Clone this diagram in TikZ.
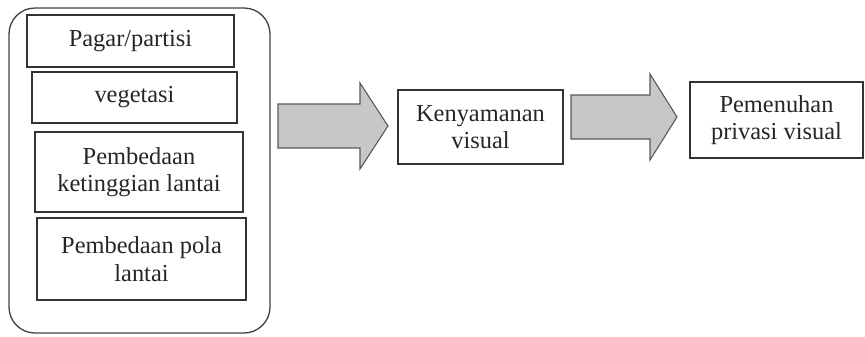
\documentclass[tikz,border=0pt]{standalone}
\usepackage{fontspec}
\setmainfont{Liberation Serif}
\begin{document}
\begin{tikzpicture}[x=1bp,y=-1bp,
  lbl/.style={font=\fontsize{24.5}{27.5}\selectfont, text=black!85, align=center},
  itembox/.style={lbl, draw=black!80, line width=1.3bp, inner sep=0pt, fill=white},
  blockarrow/.style={draw=black!65, line width=1.1bp, fill=black!22, line join=miter},
  outerbox/.style={draw=black!75, line width=1.3bp, rounded corners=26bp}
]
\useasboundingbox (0,0) rectangle (865,336);
% outer container
\node[outerbox, minimum width=261bp, minimum height=325bp] (outer) at (139.5,170.5) {};
% factor boxes
\node[itembox, minimum width=207bp, minimum height=52bp] (pagar) at (130.5,41) {Pagar/partisi};
\node[itembox, minimum width=205bp, minimum height=51bp] (veg) at (134.5,97.5) {vegetasi};
\node[itembox, minimum width=208bp, minimum height=80bp] (tinggi) at (139,172) {Pembedaan\\ketinggian lantai};
\node[itembox, minimum width=209bp, minimum height=82bp] (pola) at (141.5,259) {Pembedaan pola\\lantai};
% result boxes
\node[itembox, minimum width=165bp, minimum height=74bp] (nyaman) at (480.5,127) {Kenyamanan\\visual};
\node[itembox, minimum width=173bp, minimum height=76bp] (privasi) at (776.5,120) {Pemenuhan\\privasi visual};
% block arrows
\coordinate (a1s) at (278,126);
\coordinate (a1t) at (388,126);
\draw[blockarrow] ([yshift=22bp]a1s) -- (360,104) -- (360,83) -- (a1t) -- (360,169) -- (360,148) -- ([yshift=-22bp]a1s) -- cycle;
\coordinate (a2s) at (571,117);
\coordinate (a2t) at (677,117);
\draw[blockarrow] ([yshift=22bp]a2s) -- (650,95) -- (650,74) -- (a2t) -- (650,160) -- (650,139) -- ([yshift=-22bp]a2s) -- cycle;
\end{tikzpicture}
\end{document}
